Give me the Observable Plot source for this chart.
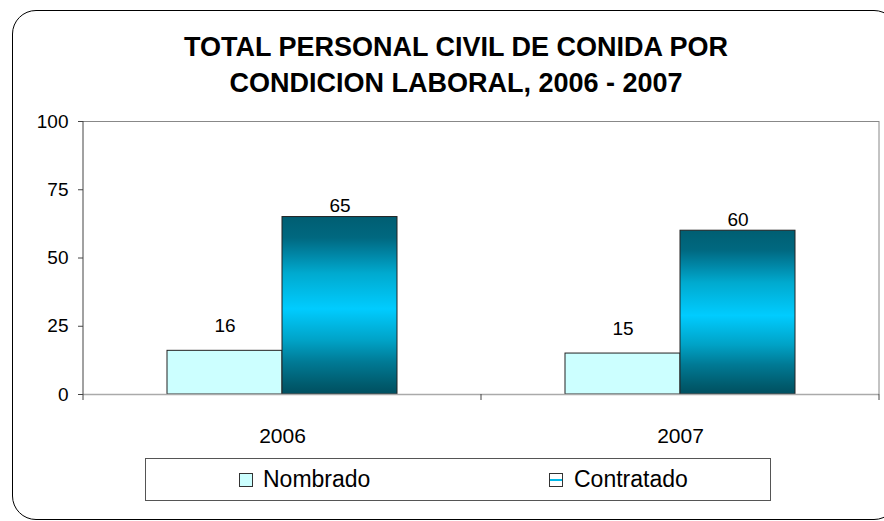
<!DOCTYPE html>
<html><head><meta charset="utf-8">
<script src="https://cdn.jsdelivr.net/npm/d3@7"></script>
<script src="https://cdn.jsdelivr.net/npm/@observablehq/plot@0.6"></script>
<style>
body{margin:0;background:#fff;font-family:"Liberation Sans",Arial,sans-serif;}
#wrap{position:relative;width:884px;height:521px;overflow:hidden;background:#fff;}
#border{position:absolute;left:12px;top:10px;width:886px;height:510px;border:1.5px solid #000;border-radius:24px;box-sizing:border-box;}
#title{position:absolute;left:0;top:29px;width:912px;text-align:center;font-weight:bold;font-size:27px;line-height:36px;color:#000;}
#chart{position:absolute;left:0;top:0;}
#legend{position:absolute;left:145px;top:458px;width:626px;height:43px;border:1px solid #555;box-sizing:border-box;background:#fff;font-size:23px;color:#000;}
.item{position:absolute;top:0;height:41px;line-height:41px;}
.sw{position:absolute;top:14px;width:12px;height:12px;border:1px solid #333;}
</style>
</head><body>
<div id="wrap">
  <div id="border"></div>
  <div id="chart"></div>
  <div id="title">TOTAL PERSONAL CIVIL DE CONIDA POR<br>CONDICION LABORAL, 2006 - 2007</div>
  <div id="legend"></div>
</div>
<script>
const years = ["2006", "2007"];
const series = ["Nombrado", "Contratado"];
const nombrado = [16, 15];
const contratado = [65, 60];
const yTicks = [0, 25, 50, 75, 100];
const colors = ["#ccffff", "url(#contratadoGrad)"];

const data = years.flatMap((yr, i) => [
  {year: yr, series: series[0], value: nombrado[i]},
  {year: yr, series: series[1], value: contratado[i]}
]);

const chart = Plot.plot({
  width: 884, height: 521,
  marginLeft: 83, marginRight: 5, marginTop: 121, marginBottom: 127,
  style: {background: "transparent", fontFamily: "'Liberation Sans', Arial, sans-serif", color: "#000", overflow: "visible"},
  fx: {domain: years, padding: 0, label: null},
  x: {domain: series, paddingInner: 0, paddingOuter: 0.73, axis: null},
  y: {domain: [0, 100], label: null},
  color: {domain: series, range: colors},
  marks: [
    Plot.ruleY([100], {stroke: "#888", strokeWidth: 1}),
    Plot.barY(data, {fx: "year", x: "series", y: "value", fill: "series", stroke: "#222", strokeWidth: 1}),
    Plot.ruleY([0], {stroke: "#aaa", strokeWidth: 1.5}),
    Plot.text(data.filter(d => d.series === series[0]), {fx: "year", x: "series", y: "value", text: d => String(d.value), dy: -25, fontSize: 19, fill: "#000"}),
    Plot.text(data.filter(d => d.series === series[1]), {fx: "year", x: "series", y: "value", text: d => String(d.value), dy: -11, fontSize: 19, fill: "#000"}),
    Plot.axisY({ticks: yTicks, tickSize: 5, tickPadding: 10, fontSize: 19, label: null, anchor: "left", stroke: "#444"}),
    Plot.axisFx({anchor: "bottom", tickSize: 0, tickPadding: 34, fontSize: 21, label: null})
  ]
});

document.getElementById("chart").appendChild(chart);

// gradient + frame lines/ticks using the plot's own scales
const svg = d3.select(chart);
const grad = svg.insert("defs", ":first-child").append("linearGradient")
  .attr("id", "contratadoGrad").attr("x1", 0).attr("y1", 0).attr("x2", 0).attr("y2", 1);
[[0, "#005e72"], [0.12, "#006880"], [0.22, "#0088a8"], [0.32, "#00aacf"], [0.52, "#00ccff"], [0.7, "#00a2c6"], [0.82, "#007a95"], [0.95, "#005a6c"], [1, "#004f60"]]
  .forEach(([o, c]) => grad.append("stop").attr("offset", o).attr("stop-color", c));

const fx = chart.scale("fx"), y = chart.scale("y");
const left = fx.range[0], right = fx.range[1];
const y0 = y.apply(0), y1 = y.apply(100);
const g = svg.append("g");
g.append("line").attr("x1", right).attr("x2", right).attr("y1", y1).attr("y2", y0).attr("stroke", "#888");
g.append("line").attr("x1", left).attr("x2", left).attr("y1", y1).attr("y2", y0).attr("stroke", "#444");
const edges = years.map(d => fx.apply(d)).concat([right]);
edges.forEach(x => g.append("line").attr("x1", x).attr("x2", x).attr("y1", y0).attr("y2", y0 + 6).attr("stroke", "#444"));

// legend
const legend = document.getElementById("legend");
const pos = [[93, 117], [403, 428]];
series.forEach((s, i) => {
  const sw = document.createElement("div");
  sw.className = "sw";
  sw.style.left = pos[i][0] + "px";
  sw.style.background = i === 0 ? "#ccffff" : "linear-gradient(#fff 0 45%, #00b8e8 45% 60%, #fff 60% 100%)";
  legend.appendChild(sw);
  const t = document.createElement("div");
  t.className = "item";
  t.style.left = pos[i][1] + "px";
  t.textContent = s;
  legend.appendChild(t);
});
</script>
</body></html>
